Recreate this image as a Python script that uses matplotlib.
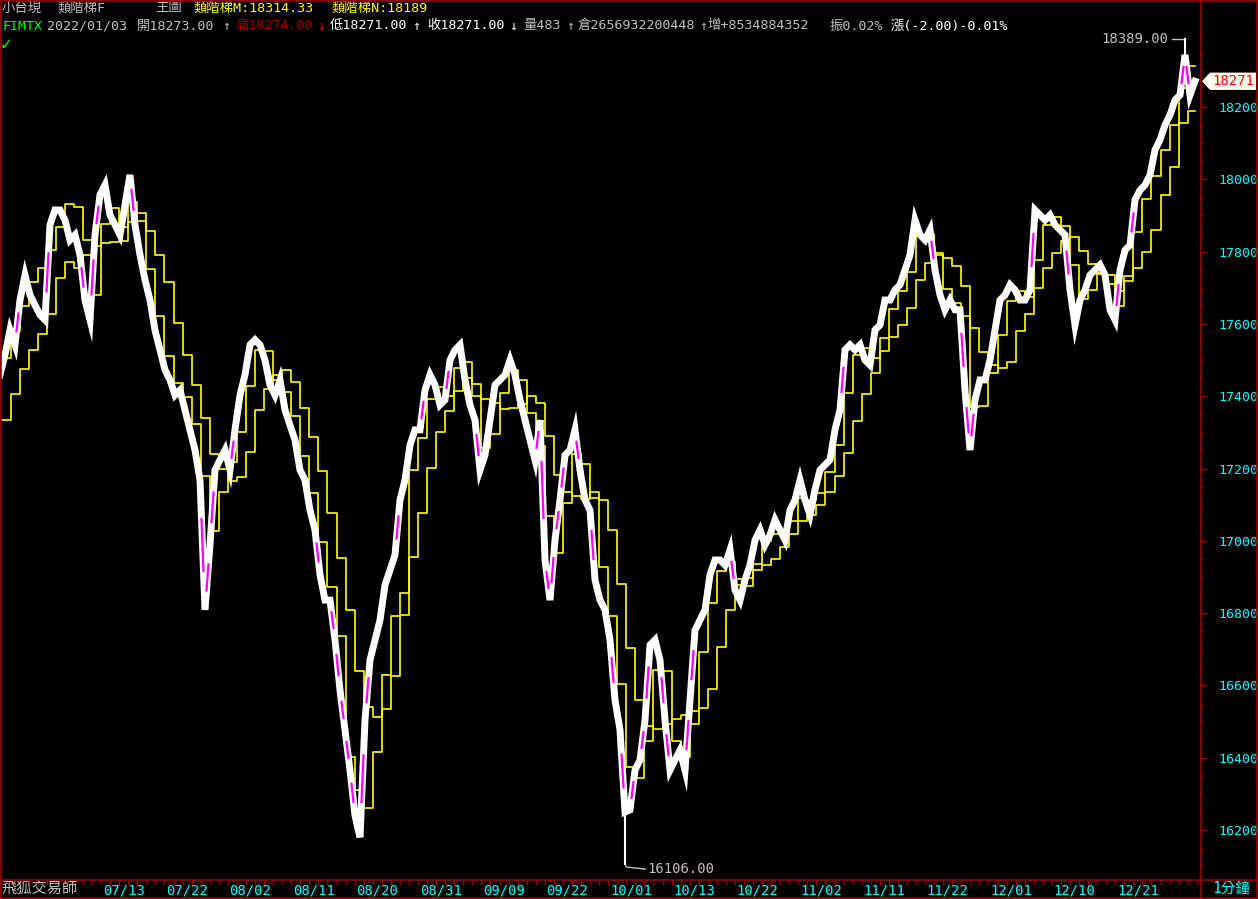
import numpy as np
import matplotlib.pyplot as plt
from matplotlib.lines import Line2D
from matplotlib.patches import Polygon
import matplotlib.transforms as mtransforms

plt.rcParams['font.family'] = ['DejaVu Sans Mono', 'Noto Sans CJK TC']

# 1-minute price, about two readings per trading day
price = [
    17459, 17514, 17583, 17542, 17666, 17735, 17680, 17652, 17625, 17611,
    17874, 17915, 17915, 17887, 17832, 17846, 17791, 17666, 17611, 17846,
    17957, 17984, 17901, 17874, 17846, 17929, 18012, 17874, 17791, 17722,
    17666, 17583, 17528, 17473, 17445, 17403, 17417, 17362, 17307, 17251,
    17168, 16809, 16989, 17196, 17224, 17251, 17196, 17307, 17403, 17459,
    17542, 17556, 17542, 17500, 17431, 17403, 17445, 17362, 17320, 17279,
    17196, 17168, 17085, 17030, 16906, 16836, 16836, 16726, 16587, 16477,
    16366, 16240, 16180, 16504, 16670, 16726, 16781, 16878, 16919, 16961,
    17113, 17168, 17265, 17307, 17307, 17417, 17459, 17431, 17376, 17390,
    17500, 17528, 17542, 17445, 17376, 17334, 17196, 17237, 17334, 17431,
    17445, 17459, 17500, 17459, 17390, 17334, 17279, 17224, 17334, 16947,
    16836, 17002, 17113, 17237, 17251, 17307, 17196, 17113, 17085, 16892,
    16836, 16809, 16726, 16560, 16477, 16250, 16256, 16366, 16394, 16504,
    16712, 16726, 16670, 16504, 16366, 16394, 16421, 16366, 16560, 16753,
    16781, 16809, 16906, 16947, 16947, 16933, 16975, 16864, 16836, 16892,
    16933, 17002, 17030, 16989, 17016, 17058, 17030, 17002, 17085, 17113,
    17168, 17113, 17072, 17141, 17196, 17210, 17224, 17307, 17362, 17528,
    17542, 17528, 17542, 17500, 17486, 17583, 17597, 17666, 17666, 17694,
    17708, 17749, 17791, 17887, 17846, 17832, 17860, 17749, 17680, 17639,
    17666, 17639, 17639, 17417, 17251, 17390, 17445, 17445, 17500, 17583,
    17666, 17680, 17708, 17694, 17666, 17666, 17694, 17915, 17901, 17887,
    17901, 17874, 17860, 17846, 17694, 17597, 17666, 17694, 17735, 17749,
    17763, 17735, 17639, 17611, 17749, 17804, 17818, 17943, 17970, 17984,
    18012, 18081, 18109, 18150, 18178, 18219, 18233, 18344, 18233, 18271,
]

# daily stair levels (one value per trading day)
stair_m = [
    17506, 17580, 17650, 17716, 17755, 17804, 17868, 17932, 17923, 17832,
    17680, 17876, 17921, 17868, 17937, 17885, 17752, 17622, 17511, 17437,
    17398, 17323, 17179, 17027, 17135, 17218, 17301, 17428, 17528, 17525,
    17445, 17412, 17345, 17235, 17132, 16997, 16872, 16737, 16402, 16311,
    16261, 16416, 16629, 16792, 16856, 17196, 17284, 17392, 17426, 17401,
    17478, 17495, 17401, 17257, 17296, 17409, 17473, 17445, 17354, 17262,
    17069, 16966, 17105, 17240, 17213, 17118, 16928, 16792, 16604, 16374,
    16344, 16446, 16643, 16640, 16446, 16402, 16493, 16693, 16828, 16917,
    16941, 16894, 16875, 16936, 17000, 17019, 17027, 17055, 17118, 17113,
    17132, 17190, 17265, 17409, 17514, 17533, 17506, 17561, 17641, 17691,
    17744, 17843, 17849, 17796, 17697, 17658, 17622, 17370, 17373, 17464,
    17569, 17663, 17691, 17674, 17777, 17874, 17896, 17871, 17763, 17669,
    17694, 17741, 17735, 17650, 17733, 17854, 17946, 18009, 18081, 18150,
    18253, 18314.33,
]
stair_n = [
    17334, 17406, 17475, 17528, 17572, 17627, 17727, 17771, 17755, 17791,
    17816, 17824, 17827, 17829, 17882, 17907, 17857, 17791, 17716, 17603,
    17514, 17431, 17340, 17240, 17199, 17166, 17177, 17246, 17362, 17420,
    17459, 17473, 17439, 17367, 17287, 17193, 17077, 16953, 16809, 16640,
    16540, 16513, 16535, 16626, 16795, 16955, 17077, 17201, 17301, 17359,
    17414, 17450, 17434, 17392, 17381, 17365, 17367, 17378, 17401, 17381,
    17290, 17182, 17135, 17124, 17116, 17135, 17113, 17030, 16881, 16704,
    16560, 16488, 16480, 16493, 16507, 16518, 16529, 16538, 16590, 16706,
    16809, 16878, 16897, 16919, 16933, 16950, 16983, 17019, 17055, 17072,
    17099, 17135, 17179, 17243, 17332, 17406, 17464, 17525, 17564, 17597,
    17644, 17722, 17769, 17791, 17782, 17760, 17705, 17589, 17522, 17486,
    17478, 17495, 17580, 17627, 17699, 17755, 17796, 17829, 17840, 17802,
    17766, 17738, 17710, 17691, 17719, 17755, 17799, 17860, 17957, 18034,
    18156, 18189,
]

date_labels = ['07/13', '07/22', '08/02', '08/11', '08/20', '08/31', '09/09', '09/22', '10/01',
               '10/13', '10/22', '11/02', '11/11', '11/22', '12/01', '12/10', '12/21']
date_days = [13, 20, 27, 34, 41, 48, 55, 62, 69, 76, 83, 90, 97, 104, 111, 118, 125]
yticks = [16200, 16400, 16600, 16800, 17000, 17200, 17400, 17600, 17800, 18000, 18200]
last_close = 18271
high_val, high_idx = 18389, 237
low_val, low_idx = 16106, 125

W, H = 1258, 899
RED = '#9a0000'
GREY = '#c0c0c0'
CYAN = '#00ffff'
YEL = '#ffff00'

fig = plt.figure(figsize=(W / 100, H / 100), dpi=100, facecolor='black')
ax = fig.add_axes([1 / W, 19 / H, 1199 / W, 879 / H])
ax.set_facecolor('black')
ax.set_xlim(-0.055, 132.36)
ax.set_ylim(16062, 18493)

ndays = len(stair_m)
xs = np.linspace(-0.166, 131.81, len(price))
p = np.array(price)

# stairs
sx = np.append(np.arange(ndays), 131.85)
ax.step(sx, stair_m + [stair_m[-1]], where='post', color=YEL, lw=1.2, zorder=2)
ax.step(sx, stair_n + [stair_n[-1]], where='post', color=YEL, lw=1.2, zorder=2)

# price worm
ax.plot(xs, p, color='white', lw=5, solid_joinstyle='miter', zorder=3)
for i in range(len(p) - 1):
    if abs(p[i + 1] - p[i]) >= 110:
        x0 = xs[i] + 0.3 * (xs[i + 1] - xs[i])
        x1 = xs[i] + 0.7 * (xs[i + 1] - xs[i])
        y0 = p[i] + 0.3 * (p[i + 1] - p[i])
        y1 = p[i] + 0.7 * (p[i + 1] - p[i])
        ax.plot([x0, x1], [y0, y1], color='#ff00ff', lw=1.6, zorder=4)

# extremes
ax.plot([xs[high_idx]] * 2, [p[high_idx], high_val], color='white', lw=1.5, zorder=3)
ax.plot([129.3, xs[high_idx]], [high_val, high_val], color=GREY, lw=1)
ax.text(128.9, high_val, '%.2f' % high_val, color=GREY, fontsize=10, ha='right', va='center')
ax.plot([xs[low_idx]] * 2, [p[low_idx], low_val], color='white', lw=1.5, zorder=3)
ax.plot([xs[low_idx], xs[low_idx] + 0.15, 71.1], [low_val, low_val - 8, low_val - 14], color=GREY, lw=1)
ax.text(71.3, low_val - 14, '%.2f' % low_val, color=GREY, fontsize=10, ha='left', va='center')

# right axis
ax.set_xticks([])
ax.yaxis.tick_right()
ax.set_yticks(yticks)
ax.set_yticklabels([str(v) for v in yticks], color=CYAN, fontsize=9.5)
ax.set_yticks(np.arange(16100, 18450, 50), minor=True)
ax.tick_params(axis='y', which='major', colors=RED, length=5, width=1, pad=8, labelcolor=CYAN)
ax.tick_params(axis='y', which='minor', colors=RED, length=2, width=1)
for s in ax.spines.values():
    s.set_visible(False)

# last price tag
tr = mtransforms.blended_transform_factory(fig.transFigure, ax.transData)
tag = Polygon([(1202 / W, last_close), (1210 / W, last_close + 24), (1256 / W, last_close + 24),
               (1256 / W, last_close - 24), (1210 / W, last_close - 24)],
              closed=True, fc='#fffff0', ec='none', transform=tr, clip_on=False, zorder=10)
fig.add_artist(tag)
fig.text(1254 / W, 0, str(last_close), color='#ff0000', fontsize=10, ha='right', va='center',
         transform=tr, zorder=11).set_y(last_close)

# date strip
axb = fig.add_axes([1 / W, 2 / H, 1199 / W, 17 / H])
axb.set_facecolor('black')
axb.set_xlim(ax.get_xlim())
axb.set_ylim(0, 1)
axb.axis('off')
axb.vlines(np.arange(0, ndays + 1), 0.72, 1.0, color=RED, lw=1)
for d, lab in zip(date_days, date_labels):
    axb.text(d + 0.5, 0.38, lab, color=CYAN, fontsize=10, ha='center', va='center')
fig.text(2 / W, 1 - 888 / H, '飛狐交易師', color=GREY, fontsize=11, ha='left', va='center')
fig.text(1212 / W, 1 - 888 / H, '1分鐘', color=CYAN, fontsize=10.5, ha='left', va='center')


def fline(x0, y0, x1, y1):
    fig.add_artist(Line2D([x0 / W, x1 / W], [1 - y0 / H, 1 - y1 / H], color=RED, lw=1.2,
                          transform=fig.transFigure, zorder=20))


fline(0, 0.5, W, 0.5)
fline(0.5, 0, 0.5, H)
fline(1200.5, 0, 1200.5, H)
fline(1256.5, 0, 1256.5, H)
fline(0, 879.5, W, 879.5)
fline(0, 897.5, W, 897.5)


# header
def run(s, x, y, c, fs=9.6):
    fig.text(x / W, 1 - y / H, s, color=c, fontsize=fs, ha='left', va='center')


run('小台現', 2, 8, GREY)
run('類階梯F', 58, 8, GREY)
run('主圖', 155, 8, GREY)
run('類階梯M:18314.33', 194, 8, YEL)
run('類階梯N:18189', 332, 8, YEL)

run('FIMTX', 2, 26, '#00ff00')
run('2022/01/03', 47, 26, GREY)
run('開18273.00', 137, 26, GREY)
run('↑', 222, 26, GREY)
run('高18274.00', 235, 26, '#a00000')
run('↓', 317, 26, '#ff0000')
run('低18271.00', 330, 26, 'white')
run('↑', 412, 26, 'white')
run('收18271.00', 427, 26, 'white')
run('↓', 509, 26, 'white')
run('量483', 523, 26, GREY)
run('↑', 566, 26, GREY)
run('倉2656932200448', 577, 26, GREY)
run('↑', 699, 26, GREY)
run('增+8534884352', 707, 26, GREY)
run('振0.02%', 829, 26, GREY)
run('漲(-2.00)-0.01%', 891, 26, 'white')
run('✓', 1, 45, '#00ff00', fs=13)

fig.savefig('out.png', dpi=100, facecolor='black')
